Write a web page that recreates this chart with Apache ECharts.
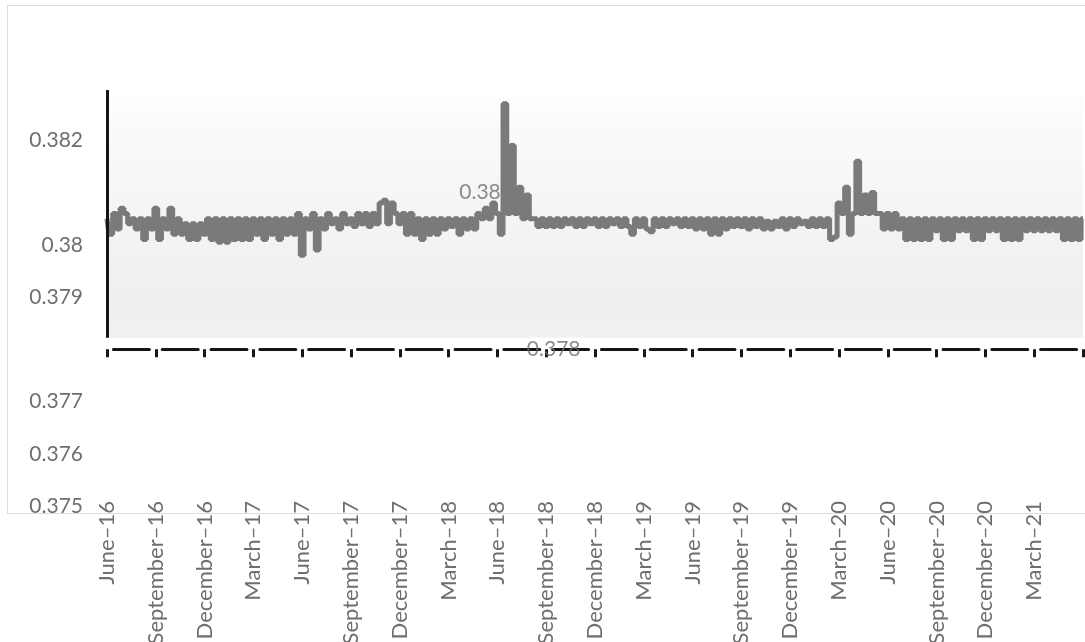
<!DOCTYPE html>
<html>
<head>
<meta charset="utf-8">
<script src="https://cdn.jsdelivr.net/npm/echarts@6/dist/echarts.min.js"></script>
<style>
  html, body { margin: 0; padding: 0; background: #fff; }
  #main { width: 1085px; height: 642px; }
</style>
</head>
<body>
<div id="main"></div>
<script>
// quarter tick labels (every 13 weeks)
var tickLabels = ['June–16', 'September–16', 'December–16', 'March–17', 'June–17',
  'September–17', 'December–17', 'March–18', 'June–18', 'September–18',
  'December–18', 'March–19', 'June–19', 'September–19', 'December–19',
  'March–20', 'June–20', 'September–20', 'December–20', 'March–21'];

// weekly values, one row per quarter
var rate = [
  0.3805, 0.3802, 0.3806, 0.3803, 0.3807, 0.3806, 0.3804, 0.3805, 0.3803, 0.3805, 0.3801, 0.3805, 0.3803,
  0.3807, 0.3801, 0.3805, 0.3803, 0.3807, 0.3802, 0.3805, 0.3802, 0.3804, 0.3801, 0.3804, 0.3801, 0.3804,
  0.3802, 0.3805, 0.3801, 0.3805, 0.38005, 0.3805, 0.38005, 0.3805, 0.3801, 0.3805, 0.3801, 0.3805, 0.3801,
  0.3805, 0.3802, 0.3805, 0.3801, 0.3805, 0.3802, 0.3805, 0.3801, 0.3805, 0.3802, 0.3805, 0.3802, 0.3806,
  0.3798, 0.3805, 0.3803, 0.3806, 0.3799, 0.3805, 0.3803, 0.3806, 0.3804, 0.3805, 0.3803, 0.3806, 0.3804,
  0.3805, 0.38035, 0.3806, 0.3804, 0.3806, 0.38035, 0.3806, 0.3804, 0.3808, 0.38085, 0.3804, 0.3808, 0.3806,
  0.3804, 0.3806, 0.3802, 0.3806, 0.3802, 0.3805, 0.3801, 0.3805, 0.3802, 0.3805, 0.3802, 0.3805, 0.3803,
  0.3805, 0.38035, 0.3805, 0.3802, 0.3805, 0.3803, 0.3805, 0.3803, 0.3806, 0.3805, 0.3807, 0.3805, 0.3808,
  0.3806, 0.3802, 0.3827, 0.3806, 0.3819, 0.3806, 0.3811, 0.3805, 0.38095, 0.3805, 0.3805, 0.38035, 0.3805,
  0.38035, 0.3805, 0.38035, 0.3805, 0.38035, 0.3805, 0.3804, 0.3805, 0.38035, 0.3805, 0.38035, 0.3805, 0.3804,
  0.3805, 0.38035, 0.3805, 0.38035, 0.3805, 0.3804, 0.3805, 0.38035, 0.3805, 0.38035, 0.3802, 0.3805, 0.38035,
  0.3805, 0.3803, 0.38025, 0.3805, 0.38035, 0.3805, 0.38035, 0.3805, 0.3804, 0.3805, 0.38035, 0.3805, 0.38035,
  0.3805, 0.3803, 0.3805, 0.3803, 0.3805, 0.3802, 0.3805, 0.3802, 0.3805, 0.3803, 0.3805, 0.38035, 0.3805,
  0.38035, 0.3805, 0.3803, 0.3805, 0.38035, 0.3805, 0.3803, 0.38045, 0.3803, 0.38045, 0.38035, 0.3805, 0.3803,
  0.3805, 0.38035, 0.3805, 0.3804, 0.38045, 0.38035, 0.3805, 0.38035, 0.3805, 0.38035, 0.3805, 0.3801, 0.38015,
  0.3808, 0.3806, 0.3811, 0.3802, 0.3806, 0.3816, 0.3806, 0.38095, 0.3806, 0.381, 0.3806, 0.3806, 0.3803,
  0.3806, 0.3803, 0.3806, 0.3803, 0.3805, 0.3801, 0.3805, 0.3801, 0.3805, 0.3801, 0.3805, 0.3801, 0.3805,
  0.38027, 0.3805, 0.3801, 0.3805, 0.3801, 0.3805, 0.38027, 0.3805, 0.38027, 0.3805, 0.3801, 0.3805, 0.3801,
  0.3805, 0.38027, 0.3805, 0.38027, 0.3805, 0.3801, 0.3805, 0.3801, 0.3805, 0.3801, 0.3805, 0.38027, 0.3805,
  0.38027, 0.3805, 0.38027, 0.3805, 0.38027, 0.3805, 0.38027, 0.3805, 0.3801, 0.3805, 0.3801, 0.3805, 0.3801,
  0.3805
];

// the two y labels that sit inside the plot in the original
var strayLabels = [
  { value: [101, 0.381], name: '0.381' },
  { value: [119, 0.378], name: '0.378' }
];

var weeks = [];
var start = new Date(2016, 5, 1);
for (var i = 0; i < rate.length; i++) {
  var d = new Date(start.getTime() + i * 7 * 86400000);
  weeks.push(d.getFullYear() + '-' + (d.getMonth() + 1) + '-' + d.getDate());
}

function onQuarter(idx) {
  return idx % 13 === 0 && idx / 13 < tickLabels.length;
}

var font = 'Lato, "Open Sans", sans-serif';
var textGrey = '#6f6f6f';

var myChart = echarts.init(document.getElementById('main'));
var option = {
  animation: false,
  backgroundColor: '#fff',
  graphic: [{
    type: 'rect',
    shape: { x: 7.5, y: 5.5, width: 1100, height: 508 },
    style: { fill: 'none', stroke: '#dcdcdc', lineWidth: 1 },
    z: -10
  }],
  grid: { left: 107, right: 2, top: 88, bottom: 136, containLabel: false, outerBoundsMode: 'none' },
  xAxis: [
    {
      type: 'category',
      data: weeks,
      boundaryGap: false,
      axisLine: { show: false },
      axisTick: { show: false },
      axisLabel: {
        rotate: 90,
        margin: -5,
        interval: function (idx) { return onQuarter(idx); },
        formatter: function (v, idx) { return tickLabels[idx / 13]; },
        color: textGrey,
        fontFamily: font,
        fontSize: 22
      },
      splitLine: { show: false }
    },
    {
      // dashed axis line drawn across at 0.378
      type: 'category',
      data: weeks,
      boundaryGap: false,
      position: 'bottom',
      offset: -156.75,
      axisLine: {
        show: true,
        lineStyle: { color: '#151515', width: 3, type: [36, 12.8], dashOffset: 42.4 }
      },
      axisTick: {
        show: true,
        length: 8,
        interval: function (idx) { return idx % 13 === 0; },
        lineStyle: { color: '#151515', width: 3 }
      },
      axisLabel: { show: false },
      splitLine: { show: false }
    }
  ],
  yAxis: {
    type: 'value',
    min: 0.375,
    max: 0.383,
    interval: 0.001,
    axisLine: { show: false },
    axisTick: { show: false },
    splitLine: { show: false },
    axisLabel: {
      margin: 24,
      color: textGrey,
      fontFamily: font,
      fontSize: 21,
      formatter: function (v) {
        var k = Math.round(v * 1000);
        if (k === 383 || k === 381 || k === 378) return '';
        return String(+v.toFixed(3));
      }
    }
  },
  series: [
    {
      name: 'labels',
      type: 'scatter',
      z: 1,
      symbolSize: 0,
      silent: true,
      data: strayLabels,
      label: {
        show: true,
        position: 'inside',
        formatter: '{b}',
        color: textGrey,
        fontFamily: font,
        fontSize: 21
      }
    },
    {
      name: 'rate',
      type: 'line',
      z: 3,
      step: 'middle',
      data: rate,
      showSymbol: false,
      lineStyle: { color: '#7a7a7c', width: 5 },
      markArea: {
        silent: true,
        data: [[{ yAxis: 0.383 }, { yAxis: 0.37822 }]],
        itemStyle: {
          color: {
            type: 'linear', x: 0, y: 0, x2: 0, y2: 1,
            colorStops: [
              { offset: 0, color: '#ffffff' },
              { offset: 0.12, color: '#fbfbfb' },
              { offset: 0.9, color: '#eeeeee' },
              { offset: 1, color: '#f2f2f2' }
            ]
          }
        }
      },
      markLine: {
        silent: true,
        symbol: 'none',
        label: { show: false },
        lineStyle: { color: '#151515', width: 3, type: 'solid' },
        data: [[{ coord: [0, 0.38296] }, { coord: [0, 0.37822] }]]
      }
    }
  ]
};
myChart.setOption(option);
window.onresize = myChart.resize;
</script>
</body>
</html>
